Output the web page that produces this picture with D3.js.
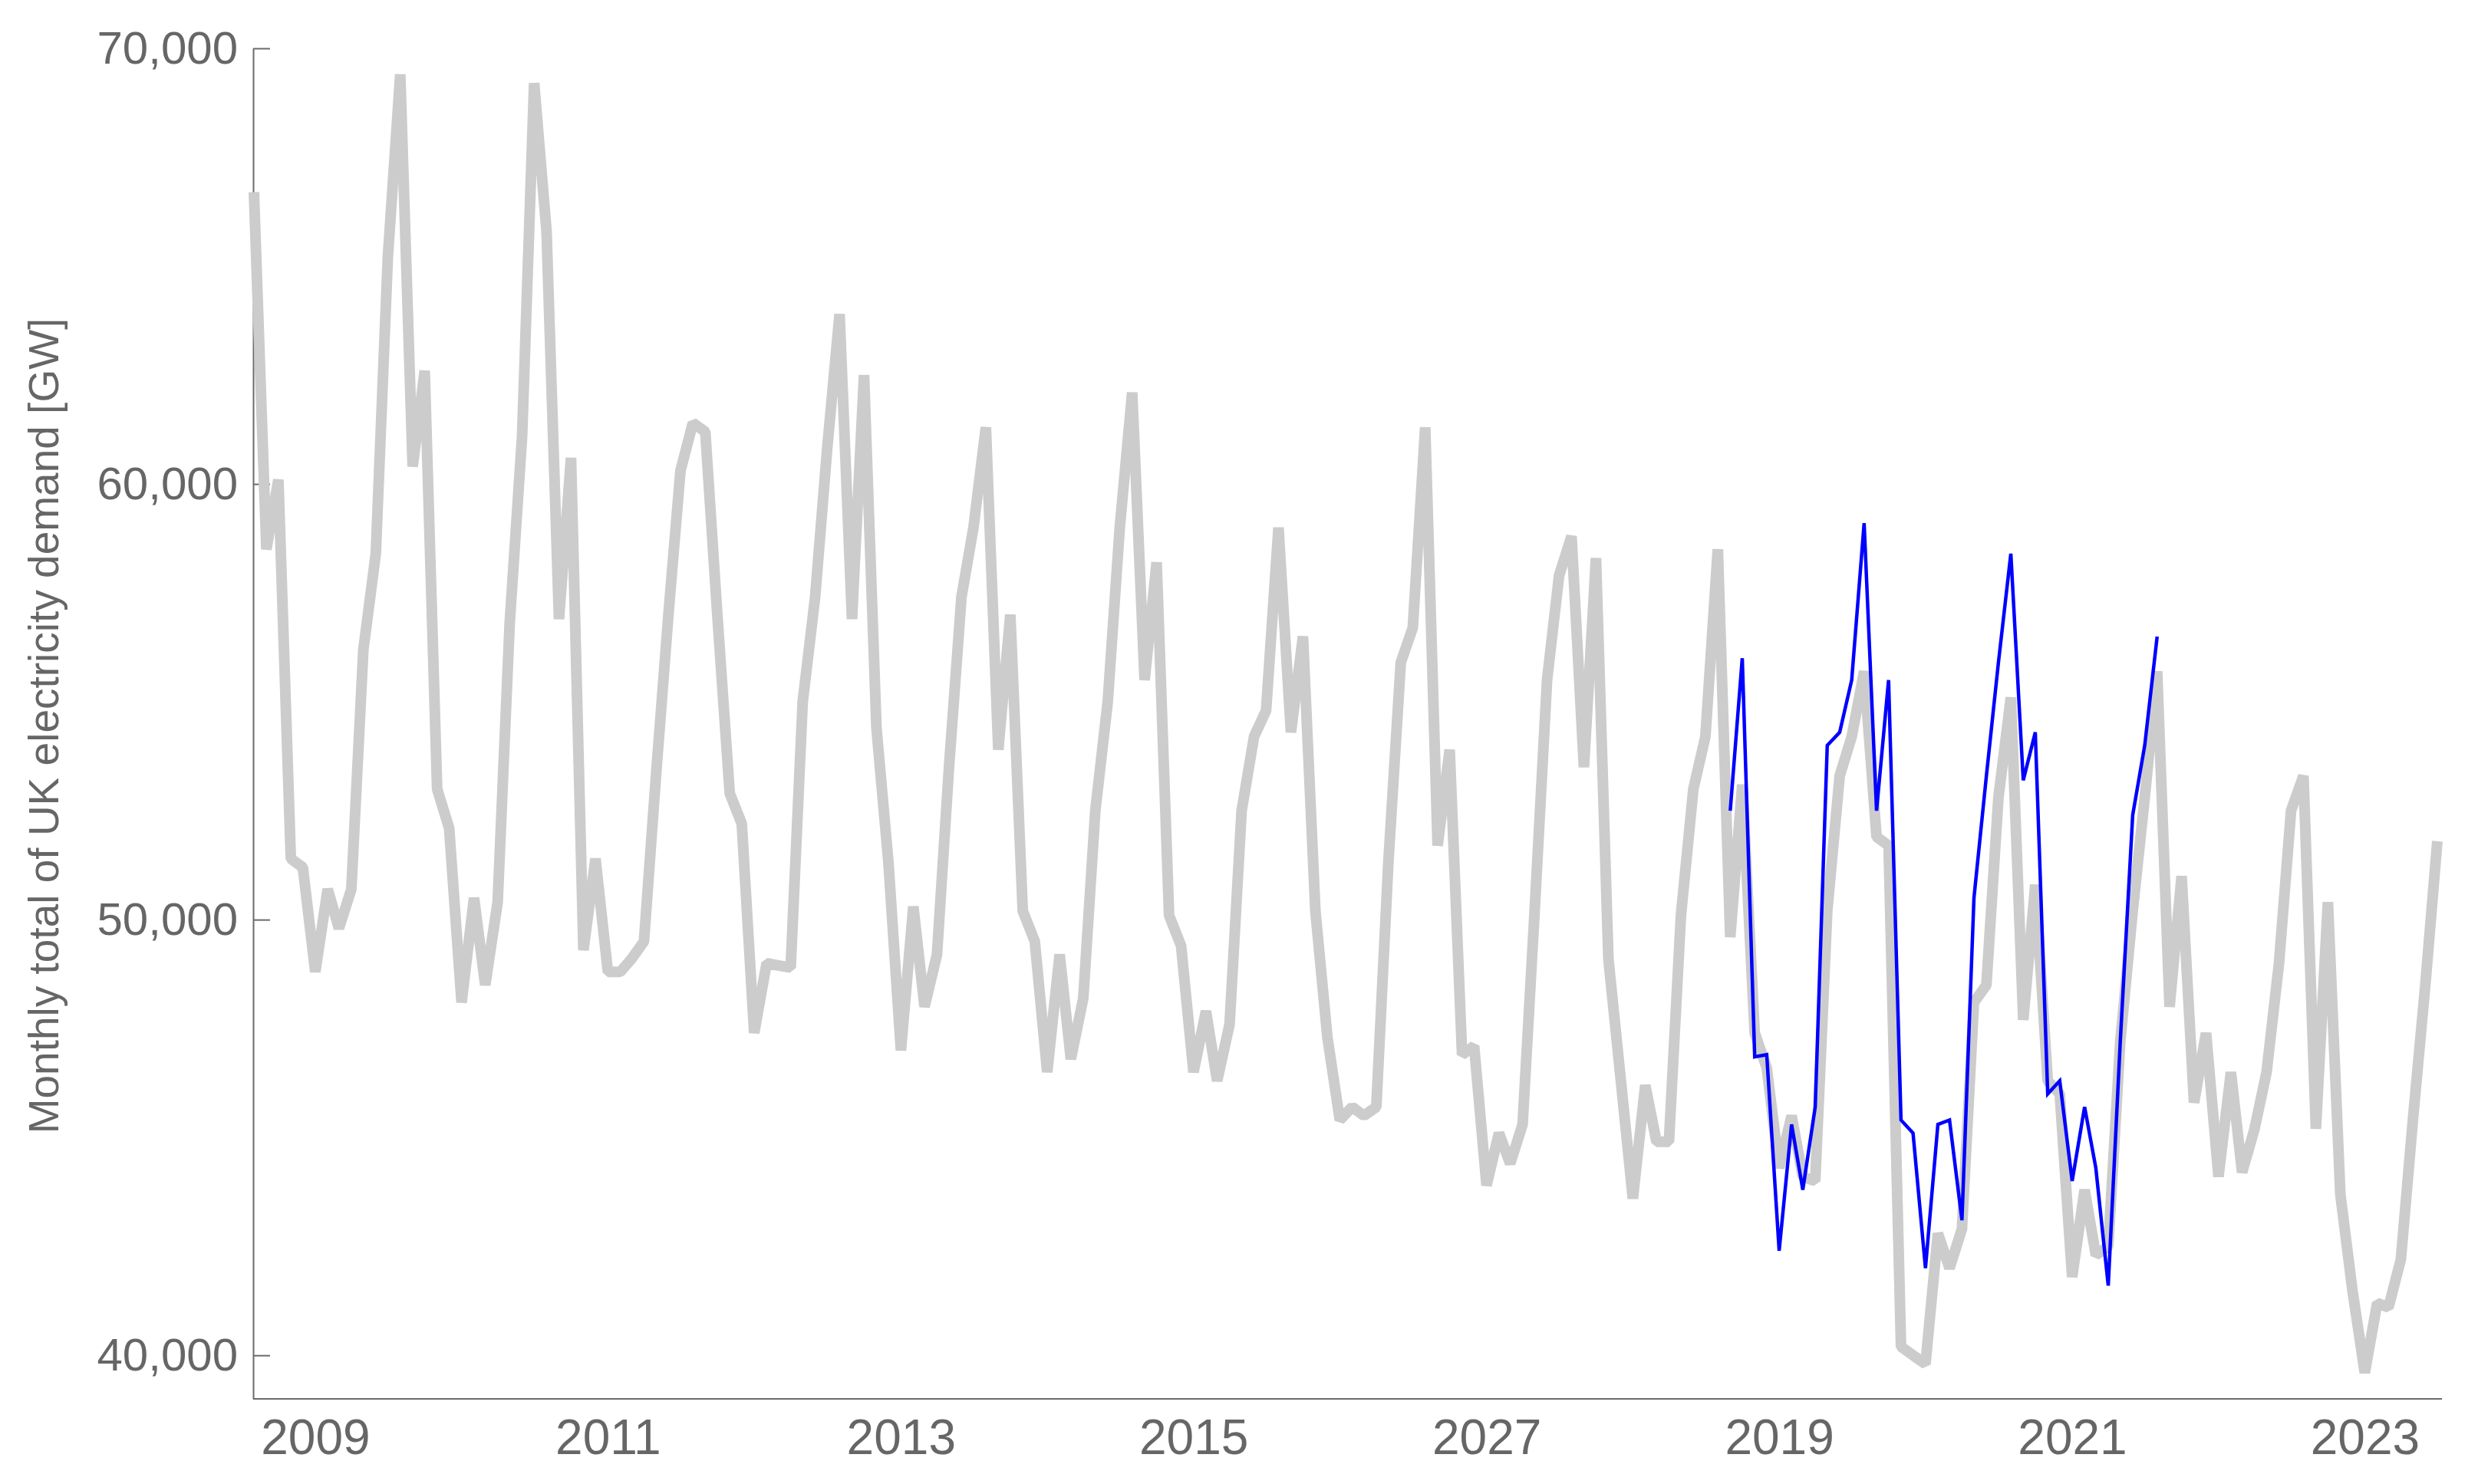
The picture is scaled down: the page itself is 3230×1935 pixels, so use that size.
<!DOCTYPE html>
<html>
<head>
<meta charset="utf-8">
<script src="https://cdn.jsdelivr.net/npm/d3@7/dist/d3.min.js"></script>
<style>
  body { margin: 0; background: #fff; }
  svg text { font-family: "Liberation Sans", Arial, sans-serif; fill: #666; }
</style>
</head>
<body>
<div id="chart"></div>
<script>
// monthly series, first value is the first month
const firstMonth = new Date(2008, 7, 1);

const demand = [
  66700, 58500, 60100, 51400, 51200, 48800, 50700, 49800, 50700, 56200, 58400, 65200,
  69400, 60400, 62600, 53000, 52100, 48100, 50500, 48500, 50400, 56800, 61100, 69200,
  65800, 56900, 60600, 49300, 51400, 48800, 48800, 49100, 49500, 53300, 57000, 60300,
  61400, 61200, 57000, 52900, 52200, 47400, 49000, 48950, 48900, 55000, 57400, 60800,
  63900, 56900, 62500, 54400, 51300, 47000, 50300, 48000, 49200, 53500, 57400, 59000,
  61300, 53900, 57000, 50200, 49500, 46500, 49200, 46800, 48200, 52500, 55000, 59000,
  62100, 55500, 58200, 50100, 49400, 46500, 47900, 46300, 47600, 52500, 54200, 54800,
  59000, 54300, 56500, 50200, 47300, 45400, 45700, 45500, 45700, 51300, 55900, 56700,
  61300, 51700, 53900, 46900, 47100, 43900, 45100, 44400, 45300, 50200, 55500, 57900,
  58800, 53500, 58300, 49100, 46400, 43600, 46200, 44900, 44900, 50100, 53000, 54200,
  58500, 49600, 53100, 47400, 46600, 44300, 45500, 44100, 44000, 50200, 53300, 54200,
  55700, 51900, 51700, 40200, 40000, 39800, 42800, 42000, 42900, 48100, 48500, 52800,
  55100, 47700, 50800, 46300, 46000, 41800, 43800, 42300, 42500, 47200, 50200, 52800,
  55700, 48000, 51000, 45800, 47400, 44100, 46500, 44200, 45200, 46500, 49000, 52500,
  53300, 45200, 50400, 43700, 41500, 39600, 41200, 41100, 42200, 45400, 48500, 51800
];

// overlay series starts at this month index of the main series
const overlayStart = 121;
const overlay = [
  52500, 56000, 46850, 46900, 42400, 45300, 43800, 45700, 54000, 54300, 55500, 59100,
  52500, 55500, 45400, 45100, 42000, 45300, 45400, 43100, 50500, 53300, 55900, 58400,
  53200, 54300, 46000, 46300, 44000, 45700, 44300, 41600, 47200, 52400, 54000, 56500
];

const yTicks = [40000, 50000, 60000, 70000];
const xTickYears = [2009, 2011, 2013, 2015, 2017, 2019, 2021, 2023];
const xTickLabels = ["2009", "2011", "2013", "2015", "2027", "2019", "2021", "2023"];
const yTitle = "Monthly total of UK electricity demand [GW]";

const width = 3230, height = 1935;
const plotLeft = 330, axisRight = 3183, plotTop = 63, plotBottom = 1824;

let svg = d3.select("#chart").append("svg")
    .attr("width", width)
    .attr("height", height);

let months = demand.map((d, i) => d3.timeMonth.offset(firstMonth, i));

let x = d3.scaleTime()
    .domain([months[0], months[months.length - 1]])
    .range([plotLeft + 1, 3177]);

let y = d3.scaleLinear()
    .domain([39000, 70000])
    .range([plotBottom, plotTop]);

// axes
let yAxis = svg.append("g")
    .attr("transform", `translate(${plotLeft},0)`)
    .call(d3.axisLeft(y)
        .tickValues(yTicks)
        .tickFormat(d3.format(","))
        .tickSizeInner(-22)
        .tickSizeOuter(0)
        .tickPadding(20));
yAxis.selectAll("text").style("font-size", "60px");

let xAxis = svg.append("g")
    .attr("transform", `translate(0,${plotBottom})`)
    .call(d3.axisBottom(x)
        .tickValues(xTickYears.map(yr => new Date(yr, 0, 1)))
        .tickFormat((d, i) => xTickLabels[i])
        .tickSize(0)
        .tickPadding(27));
xAxis.selectAll("text").style("font-size", "64px");
xAxis.select(".domain").attr("d", `M${plotLeft},0H${axisRight}`);

svg.selectAll(".domain, .tick line")
    .attr("stroke", "#6b6b6b")
    .attr("stroke-width", 2);

svg.append("text")
    .attr("transform", `translate(76,${(plotTop + plotBottom) / 2 + 3}) rotate(-90)`)
    .attr("text-anchor", "middle")
    .style("font-size", "55px")
    .text(yTitle);

// lines
let line = d3.line()
    .x(d => x(d.date))
    .y(d => y(d.value));

svg.append("path")
    .datum(demand.map((v, i) => ({ date: months[i], value: v })))
    .attr("fill", "none")
    .attr("stroke", "#cccccc")
    .attr("stroke-width", 14)
    .attr("stroke-linejoin", "bevel")
    .attr("d", line);

svg.append("path")
    .datum(overlay.map((v, i) => ({ date: months[overlayStart + i], value: v })))
    .attr("fill", "none")
    .attr("stroke", "#0000ff")
    .attr("stroke-width", 4.5)
    .attr("d", line);
</script>
</body>
</html>
